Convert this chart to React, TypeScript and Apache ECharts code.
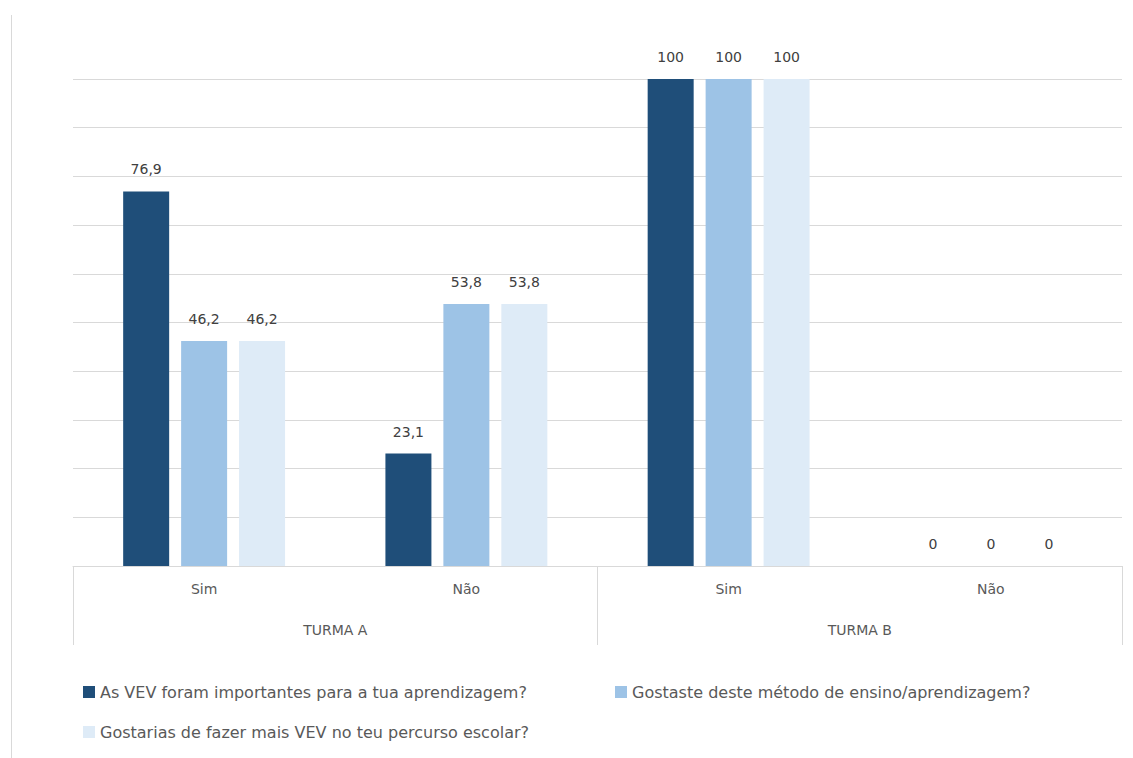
import React, { useEffect, useRef } from "react";
import * as echarts from "echarts";

const categories = ["Sim", "Não", "Sim", "Não"];
const groups = ["TURMA A", "TURMA B"];
const seriesNames = [
  "As VEV foram importantes para a tua aprendizagem?",
  "Gostaste deste método de ensino/aprendizagem?",
  "Gostarias de fazer mais VEV no teu percurso escolar?",
];
const importantes = [76.9, 23.1, 100, 0];
const gostaste = [46.2, 53.8, 100, 0];
const gostarias = [46.2, 53.8, 100, 0];
const colors = ["#1f4e79", "#9dc3e6", "#deebf7"];

const FONT = "DejaVu Sans";
const TEXT = "#595959";

export default function App() {
  const ref = useRef<HTMLDivElement>(null);
  useEffect(() => {
    if (!ref.current) return;
    const chart = echarts.init(ref.current, undefined, { renderer: "svg" });
    const fmt = (p: any) => String(p.value).replace(".", ",");
    const mk = (name: string, data: number[], color: string) => ({
      name,
      type: "bar",
      data,
      barWidth: 46,
      barGap: "26%",
      itemStyle: { color },
      label: {
        show: true,
        position: "top",
        distance: 15,
        formatter: fmt,
        color: "#404040",
        fontFamily: FONT,
        fontSize: 14,
      },
    });
    const legendText = { color: TEXT, fontFamily: FONT, fontSize: 16 };
    chart.setOption({
      animation: false,
      textStyle: { fontFamily: FONT },
      grid: { left: 73, right: 11, top: 79, bottom: 192, containLabel: false },
      xAxis: [
        {
          type: "category",
          data: categories,
          position: "bottom",
          axisLine: { show: true, lineStyle: { color: "#d9d9d9", width: 1 } },
          axisTick: { show: false },
          axisLabel: { margin: 16, color: TEXT, fontFamily: FONT, fontSize: 14 },
          splitLine: { show: false },
        },
        {
          type: "category",
          data: groups,
          position: "bottom",
          offset: 0,
          axisLine: { show: false },
          axisTick: { show: true, length: 79, alignWithLabel: false, lineStyle: { color: "#d9d9d9" } },
          axisLabel: { margin: 57, color: TEXT, fontFamily: FONT, fontSize: 14 },
          splitLine: { show: false },
        },
      ],
      yAxis: {
        type: "value",
        min: 0,
        max: 100,
        interval: 10,
        axisLabel: { show: false },
        axisLine: { show: false },
        axisTick: { show: false },
        splitLine: { show: true, lineStyle: { color: "#d9d9d9", width: 1 } },
      },
      legend: [
        {
          data: [seriesNames[0]],
          left: 78,
          top: 679,
          itemWidth: 12,
          itemHeight: 12,
          itemGap: 8,
          icon: "rect",
          textStyle: legendText,
        },
        {
          data: [seriesNames[1]],
          left: 610,
          top: 679,
          itemWidth: 12,
          itemHeight: 12,
          icon: "rect",
          textStyle: legendText,
        },
        {
          data: [seriesNames[2]],
          left: 78,
          top: 719,
          itemWidth: 12,
          itemHeight: 12,
          icon: "rect",
          textStyle: legendText,
        },
      ],
      graphic: [
        {
          type: "line",
          shape: { x1: 11.5, y1: 15, x2: 11.5, y2: 758 },
          style: { stroke: "#d9d9d9", lineWidth: 1 },
        },
      ],
      series: [
        mk(seriesNames[0], importantes, colors[0]),
        mk(seriesNames[1], gostaste, colors[1]),
        mk(seriesNames[2], gostarias, colors[2]),
      ],
    });
    return () => chart.dispose();
  }, []);
  return (
    <div
      ref={ref}
      style={{ position: "fixed", left: 0, top: 0, width: 1133, height: 758, background: "#fff" }}
    />
  );
}
